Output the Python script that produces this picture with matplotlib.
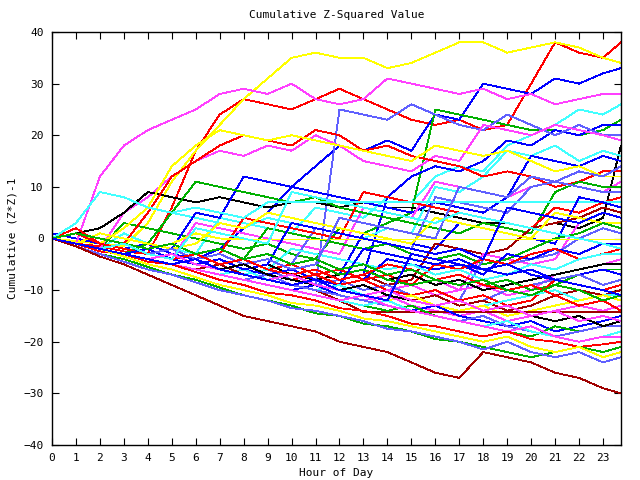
# -*- coding: utf-8 -*-
"""Cumulative Z-squared value per hour of day (gnuplot look)."""
import matplotlib
matplotlib.use('Agg')
import matplotlib.pyplot as plt

# hour marks (last sample at 23:45)
hours = list(range(24)) + [23.75]

# one list per trace
red_a = [0, -1, -1.5, -2.5, -3, 6, 17, 24, 27, 26, 25, 27, 29, 27, 25, 23, 22, 23, 21, 22, 30, 38, 36, 35, 38]
yellow_a = [0, -0.5, -1, -1.5, 3, 11, 17, 22, 27, 31, 35, 36, 35, 35, 33, 34, 36, 38, 38, 36, 37, 38, 37, 35, 34]
blue_a = [1, 0, -1, -2, -1, -3, -4, -2, 2, 5, 10, 14, 18, 17, 19, 17, 24, 23, 30, 29, 28, 31, 30, 32, 33]
magenta_a = [0, -1, 12, 18, 21, 23, 25, 28, 29, 28, 30, 27, 26, 27, 31, 30, 29, 28, 29, 27, 28, 26, 27, 28, 28]
cyan_a = [0, -1, -2, 1, -1, -2, -3, 4, 3, 2, 1, 6, 5, 4, 8, 7, 12, 14, 13, 18, 20, 22, 25, 24, 26]
green_a = [0, -1, -2, 3, 2, 1, 0, -1, -2, -1, -3, -4, 2, 1, 3, 5, 25, 24, 23, 22, 21, 21, 20, 21, 23]
blue_b = [0, -1, -2, -3, -4, -3, -5, -4, -6, -5, -7, -6, -8, -7, 8, 12, 14, 13, 15, 19, 18, 21, 20, 22, 22]
slate_a = [0, -1, -2, -3, -4, -3, -5, -6, -5, -7, -8, -9, 25, 24, 23, 26, 24, 22, 21, 24, 22, 20, 22, 20, 20]
magenta_b = [0, -1, -2, 5, 8, 12, 15, 17, 16, 18, 17, 20, 18, 15, 14, 13, 16, 15, 22, 21, 20, 22, 21, 20, 19]
black_a = [0, 1, 2, 5, 9, 8, 7, 8, 7, 6, 7, 7, 6, 7, 6, 6, 5, 4, 3, 3, 2, 3, 2, 4, 18]
cyan_b = [0, 3, 9, 8, 6, 5, 4, 3, 2, 4, 3, 2, 1, 0, 2, 1, 10, 9, 12, 17, 16, 18, 15, 17, 16]
blue_c = [0, -1, -2, -1, -3, -2, 5, 4, 12, 11, 10, 9, 8, 7, 6, 5, 7, 6, 5, 8, 16, 15, 14, 16, 15]
red_b = [0, 1, 0, -1, 5, 12, 15, 18, 20, 19, 18, 21, 20, 17, 18, 16, 15, 14, 12, 13, 12, 10, 11, 13, 13]
yellow_b = [0, 1, -1, 2, 6, 14, 18, 21, 20, 19, 20, 19, 18, 17, 16, 15, 18, 17, 16, 17, 15, 13, 14, 12, 12]
magenta_c = [0, -1, -2, -3, -2, -4, 3, 2, 1, 0, -1, -2, -3, 6, 5, 4, 11, 10, 9, 8, 10, 11, 10, 9, 11]
green_b = [0, -1, -2, -3, -1, 5, 11, 10, 9, 8, 7, 8, 6, 5, 4, 3, 2, 1, 3, 2, 1, 9, 11, 10, 10]
slate_b = [0, -1, -2, -3, -2, -4, -3, -5, -4, -6, -5, 2, 1, 0, -1, -2, 8, 7, 6, 5, 10, 11, 10, 9, 9]
red_c = [0, 2, -1, -2, -3, -2, -4, -3, 4, 3, 2, 1, 0, 9, 8, 7, 6, 5, 4, 3, 2, 6, 5, 7, 8]
cyan_flat = [0, 3, 9, 8, 6, 5, 6, 5, 4, 7, 7, 7, 7, 7, 7, 7, 7, 7, 7, 7, 7, 7, 7, 7, 7]
blue_d = [0, -1, -2, -3, -4, -5, -4, -6, -5, -7, -6, -8, -7, 1, 0, -1, -2, 3, 2, 1, 0, -1, 8, 7, 6]
darkred_a = [0, -1, -2, -1, -3, -4, -5, -4, -6, -5, -7, -6, -8, -7, -9, -8, -1, -2, -3, -2, 2, 3, 4, 6, 5]
magenta_d = [0, -1, -2, -3, -4, -5, -4, -6, -5, -7, -8, -7, -9, -8, -10, -9, -11, -10, -3, -4, -5, -4, 3, 5, 4]
yellow_c = [0, -1, 1, 0, -1, -2, -1, 3, 2, 5, 4, 3, 2, 1, 0, -1, 4, 3, 2, 1, 0, 5, 4, 3, 3]
green_c = [0, -1, -2, -3, -2, -4, -3, -5, -4, 2, 1, 0, -1, -2, -1, -3, -4, -3, -5, -4, -2, 0, 1, 3, 2]
slate_c = [0, -1, -2, -3, -4, -3, -5, -6, -7, -6, -8, -9, -8, -10, -9, -11, -10, -12, -4, -5, -4, -3, 0, 2, 1]
yellow_flat = [0, -1, -2, -3, -2, -1, 1, 0] + [-0.2] * 17
blue_e = [0, -1, -2, -3, -4, -3, -5, -6, -5, -7, -6, -8, -9, -8, -4, -5, -6, -5, -7, -3, -4, -2, -3, -1, -1]
red_d = [0, 1, -1, -2, -3, -4, -3, -5, -4, -6, -5, -7, -6, -8, -7, -9, -5, -6, -4, -5, -3, -2, -4, -3, -2]
cyan_c = [0, -1, -2, -3, -4, -5, -4, -6, -7, -6, -2, -3, -4, -5, -6, -5, -7, -6, -8, -7, -5, -6, -4, -3, -3]
magenta_e = [0, -1, -2, -1, -3, -4, -5, -6, -5, -7, -6, -8, -7, -6, -8, -9, -8, -10, -9, -11, -10, -7, -6, -5, -4]
black_b = [0, -1, -2, -3, -2, -4, -5, -4, -6, -5, -7, -8, -7, -6, -8, -7, -9, -8, -10, -9, -8, -7, -6, -5, -5]
green_d = [0, -1, -2, -3, -4, -3, -5, -6, -5, -4, -6, -5, -7, -6, -8, -9, -8, -7, -9, -8, -10, -9, -7, -6, -6]
blue_f = [0, -1, -2, -3, -4, -3, -5, -4, -6, -7, -6, -8, -9, -2, -3, -4, -5, -4, -6, -5, -7, -8, -7, -6, -7]
slate_d = [0, -1, -2, -3, -4, -5, -6, -5, -7, -8, -7, -9, -10, -9, -11, -12, -11, -13, -12, -10, -9, -8, -7, -9, -8]
red_e = [0, -1, -2, -3, -2, -4, -5, -6, -5, -7, -8, -7, -9, -8, -10, -11, -10, -12, -11, -13, -12, -8, -9, -10, -9]
darkred_b = [0, -1, -2, -3, -4, -5, -6, -5, -7, -8, -9, -8, -10, -11, -10, -12, -11, -13, -12, -14, -13, -11, -10, -11, -10]
cyan_d = [0, -1, -2, -3, -4, -5, -6, -7, -6, -8, -9, -10, -9, -11, -12, -11, -13, -14, -13, -12, -11, -10, -12, -11, -11]
yellow_d = [0, -1, -2, -3, -4, -3, -5, -6, -7, -8, -9, -8, -10, -11, -12, -11, -13, -14, -13, -15, -14, -13, -12, -11, -12]
magenta_f = [0, -1, -2, -3, -4, -5, -6, -7, -8, -7, -9, -10, -11, -12, -11, -13, -14, -15, -14, -16, -15, -14, -13, -14, -13]
darkred_flat = [0, -1, -2, -3, -4, -5, -6, -5, -7, -8, -9, -10, -12] + [-14.2] * 12
blue_g = [0, -1, -2, -3, -4, -5, -6, -7, -8, -9, -10, -9, -11, -12, -13, -14, -13, -15, -16, -17, -16, -18, -17, -16, -15]
green_e = [0, -1, -2, -3, -4, -5, -6, -7, -8, -9, -10, -11, -12, -13, -14, -13, -15, -16, -17, -18, -19, -17, -18, -17, -16]
slate_e = [0, -1, -2, -3, -4, -5, -6, -7, -8, -7, -9, -10, -11, -12, -13, -14, -15, -16, -15, -17, -18, -19, -18, -17, -17]
cyan_e = [0, -1, -2, -3, -4, -5, -6, -7, -8, -9, -10, -11, -12, -13, -12, -14, -15, -16, -17, -16, -18, -19, -20, -19, -18]
magenta_g = [0, -1, -2, -3, -4, -5, -6, -7, -8, -9, -10, -11, -12, -11, -13, -14, -15, -16, -17, -18, -17, -19, -20, -19, -19]
red_f = [0, -1, -2.5, -3, -4.5, -5, -6.5, -8, -9, -10.5, -11, -12, -13.5, -14, -15, -16.5, -17, -18, -19, -18, -19.5, -20, -21, -20.5, -20]
green_f = [0, -1.5, -3, -4, -5.5, -7, -8, -9.5, -11, -12, -13, -14.5, -15, -16.5, -17, -18, -19.5, -20, -21, -22, -23, -22, -21, -22, -21]
yellow_e = [0, -1, -2, -3.5, -5, -6, -7.5, -9, -10, -11, -12.5, -13, -14, -15.5, -16, -17, -18, -19, -20, -19, -21, -22, -21, -23, -22]
slate_f = [0, -1.5, -3, -4.5, -6, -7, -8.5, -10, -11, -12, -13.5, -14, -15, -16, -17.5, -18, -19, -20, -21.5, -20, -22, -23, -22, -24, -23]
darkred_low = [0, -1.5, -3.5, -5, -7, -9, -11, -13, -15, -16, -17, -18, -20, -21, -22, -24, -26, -27, -22, -23, -24, -26, -27, -29, -30]
blue_h = [0, -1, -2, -3, -2, -4, -5, -4, -6, -5, 3, 2, 1, 0, -1, -2, -3, -2, -4, 6, 5, 4, 3, 5, 4]
slate_g = [0, -1, -2, -1, -3, -2, -4, -3, -5, -4, -6, -5, 4, 3, 2, 1, 0, 10, 9, 8, 12, 11, 13, 12, 14]
red_g = [0, -1, -2, -1, -3, -4, -3, -5, -4, -6, -7, -6, -8, -7, -5, -6, -8, -7, -9, -10, -9, -11, -13, -12, -14]
green_g = [0, 1, 0, -1, -2, -1, -3, -2, -4, -3, -5, -4, -6, -5, -7, -6, -8, -9, -8, -10, -11, -9, -10, -12, -11]
black_c = [0, -1, -2, -3, -4, -5, -4, -6, -5, -7, -8, -9, -10, -9, -11, -12, -13, -12, -14, -13, -15, -16, -15, -17, -16]
cyan_f = [0, -1, -2, -1, -3, -4, 2, 1, 0, -1, 9, 8, 7, 6, 5, 4, 3, 5, 4, 3, 2, 1, 0, -1, -2]
magenta_h = [0, -1, -2, -3, -4, -3, -5, -6, -7, -8, -7, -9, -10, -11, -10, -12, -13, -12, -14, -13, -15, -14, -16, -15, -16]
blue_i = [0, -1, -2, -3, -4, -5, -4, -6, -7, -8, -9, -8, -10, -11, -12, -3, -4, -5, -6, -7, -6, -8, -9, -10, -11]

RED, GREEN, BLUE, MAGENTA = '#ff0000', '#00b000', '#0000ff', '#ff40ff'
CYAN, DARKRED, YELLOW, BLACK, SLATE = '#40ffff', '#a00000', '#ffff00', '#000000', '#6060ff'

traces = [
    (red_a, RED), (yellow_a, YELLOW), (blue_a, BLUE), (magenta_a, MAGENTA),
    (cyan_a, CYAN), (green_a, GREEN), (blue_b, BLUE), (slate_a, SLATE),
    (magenta_b, MAGENTA), (black_a, BLACK), (cyan_b, CYAN), (blue_c, BLUE),
    (red_b, RED), (yellow_b, YELLOW), (magenta_c, MAGENTA), (green_b, GREEN),
    (slate_b, SLATE), (red_c, RED), (cyan_flat, CYAN), (blue_d, BLUE),
    (darkred_a, DARKRED), (magenta_d, MAGENTA), (yellow_c, YELLOW), (green_c, GREEN),
    (slate_c, SLATE), (yellow_flat, YELLOW), (blue_e, BLUE), (red_d, RED),
    (cyan_c, CYAN), (magenta_e, MAGENTA), (black_b, BLACK), (green_d, GREEN),
    (blue_f, BLUE), (slate_d, SLATE), (red_e, RED), (darkred_b, DARKRED),
    (cyan_d, CYAN), (yellow_d, YELLOW), (magenta_f, MAGENTA), (darkred_flat, DARKRED),
    (blue_g, BLUE), (green_e, GREEN), (slate_e, SLATE), (cyan_e, CYAN),
    (magenta_g, MAGENTA), (red_f, RED), (green_f, GREEN), (yellow_e, YELLOW),
    (slate_f, SLATE), (darkred_low, DARKRED), (blue_h, BLUE), (slate_g, SLATE),
    (red_g, RED), (green_g, GREEN), (black_c, BLACK), (cyan_f, CYAN),
    (magenta_h, MAGENTA), (blue_i, BLUE),
]

x_ticks = list(range(24))
y_ticks = list(range(-40, 41, 10))

plt.rcParams['font.family'] = ['DejaVu Sans Mono']

fig = plt.figure(figsize=(6.4, 4.8), dpi=100)
ax = fig.add_axes([52 / 640, 35 / 480, 569 / 640, 413 / 480])

for values, color in traces:
    ax.plot(hours, values, color=color, linewidth=0.6, antialiased=False)

ax.set_xlim(0, 23.75)
ax.set_ylim(-40, 40)
ax.set_xticks(x_ticks)
ax.set_yticks(y_ticks)
ax.tick_params(direction='in', length=5, width=0.8, top=True, right=True,
               labelsize=8, pad=6)
for sp in ax.spines.values():
    sp.set_linewidth(1.0)

ax.set_title('Cumulative Z-Squared Value', fontsize=8, pad=10)
ax.set_xlabel('Hour of Day', fontsize=8, labelpad=3)
ax.set_ylabel('Cumulative (Z*Z)-1', fontsize=8, labelpad=4)

fig.savefig('out.png', dpi=100)
